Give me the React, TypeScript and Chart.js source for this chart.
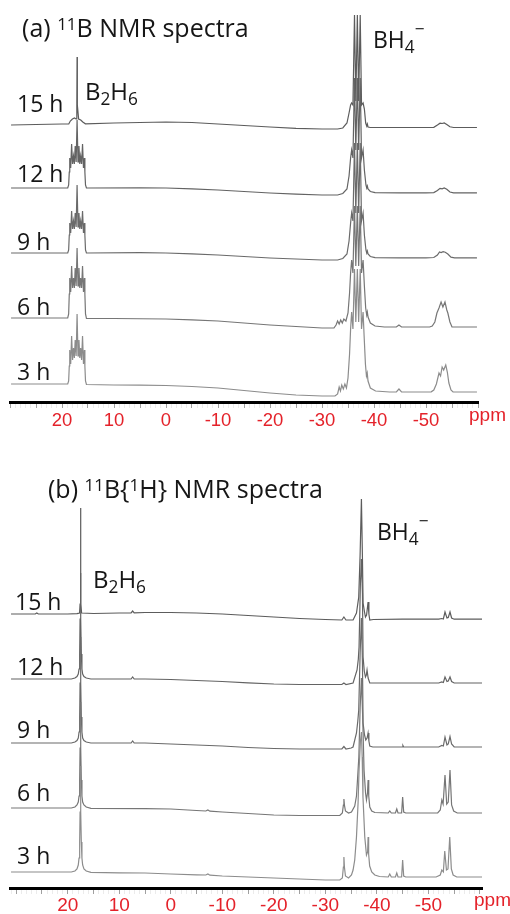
import React, { useEffect, useRef } from 'react';
import { Chart, registerables } from 'chart.js';
Chart.register(...registerables);

type Pt = [number, number];
type Seg = { t: string; s?: number; dy?: number };
type Annot = { ppm: number; v: number; size: number; segs: Seg[] };

// ---------- Data: (a) 11B NMR spectra, [ppm, intensity above stacking offset] ----------
const HOURS = ['3 h', '6 h', '9 h', '12 h', '15 h'];

const A_3H: Pt[] = [
  [29.8, 0], [25, 0], [20, 0], [18.9, 0], [18.72, 3], [18.6, 18], [18.51, 34], [18.33, 20], [18.15, 48], [17.97, 24],
  [17.79, 36], [17.62, 26], [17.46, 44], [17.28, 28], [17.1, 70], [16.92, 28], [16.74, 44], [16.58, 26], [16.41, 36],
  [16.23, 24], [16.05, 48], [15.87, 20], [15.69, 34], [15.6, 18], [15.48, 3], [15.3, -0.5], [10, -1], [5, -1.2], [0, -1.5],
  [-5, -2.5], [-10, -4], [-15, -6.5], [-20, -9], [-25, -11], [-30, -12], [-32.5, -12], [-33, -10], [-33.3, -3], [-33.55, -7],
  [-33.8, -1], [-34.1, -5], [-34.4, 0], [-34.7, -4], [-35.0, 6], [-35.3, 30], [-35.5, 55], [-35.7, 72], [-35.95, 55],
  [-36.25, 115], [-36.5, 62], [-36.8, 115], [-37.05, 62], [-37.35, 115], [-37.6, 55], [-37.9, 72], [-38.1, 48], [-38.35, 20],
  [-38.55, 8], [-38.7, 11], [-38.85, 3], [-39.3, -4], [-40.3, -7], [-43, -8], [-44.3, -7.8], [-44.8, -5], [-45.3, -7.8],
  [-47, -8], [-51, -7.8], [-51.5, -6], [-52.0, 0], [-52.5, 11], [-52.8, 8], [-53.1, 17], [-53.4, 14], [-53.8, 19],
  [-54.1, 12], [-54.4, 1], [-54.8, -6], [-55.2, -8], [-59.8, -8],
];
const A_6H: Pt[] = [
  [29.8, 0], [20, 0], [18.9, 0], [18.72, 4], [18.6, 24], [18.51, 40], [18.33, 26], [18.15, 52], [17.97, 30], [17.79, 40],
  [17.62, 30], [17.46, 50], [17.28, 32], [17.1, 70], [16.92, 32], [16.74, 50], [16.58, 30], [16.41, 40], [16.23, 30],
  [16.05, 52], [15.87, 26], [15.69, 40], [15.6, 24], [15.48, 4], [15.3, -0.3], [10, -0.5], [0, -1], [-5, -1.8], [-10, -3],
  [-15, -5], [-20, -7], [-25, -8.5], [-30, -10], [-32.3, -10], [-32.7, -7], [-33.0, -3], [-33.3, -6], [-33.6, -2],
  [-33.9, -5], [-34.2, -1], [-34.6, -3], [-35.0, 5], [-35.3, 25], [-35.5, 45], [-35.7, 58], [-35.95, 45], [-36.25, 112],
  [-36.5, 52], [-36.8, 112], [-37.05, 52], [-37.35, 112], [-37.6, 45], [-37.9, 58], [-38.15, 32], [-38.4, 10], [-38.6, 3],
  [-38.72, 6], [-38.85, 1], [-39.3, -5], [-40.2, -8], [-42, -9], [-44.3, -9], [-44.8, -7], [-45.3, -9], [-50.7, -9],
  [-51.2, -8], [-51.7, -4], [-52.1, 5], [-52.5, 10], [-52.9, 16], [-53.25, 11], [-53.65, 16], [-54.0, 8], [-54.2, 5],
  [-54.6, -4], [-55.0, -9], [-59.8, -9],
];
const A_9H: Pt[] = [
  [29.8, 0], [20, 0], [18.9, 0], [18.72, 3], [18.6, 18], [18.51, 30], [18.33, 20], [18.15, 42], [17.97, 24], [17.79, 32],
  [17.62, 24], [17.46, 40], [17.28, 26], [17.1, 68], [16.92, 26], [16.74, 40], [16.58, 24], [16.41, 32], [16.23, 24],
  [16.05, 42], [15.87, 20], [15.69, 30], [15.6, 18], [15.48, 3], [15.3, 0], [5, 0.3], [0, 0], [-5, -0.8], [-10, -2],
  [-15, -3.5], [-20, -5], [-25, -6], [-30, -7], [-33, -7], [-34, -5.5], [-34.8, -1], [-35.2, 12], [-35.5, 30], [-35.7, 40],
  [-35.95, 32], [-36.25, 110], [-36.5, 40], [-36.8, 110], [-37.05, 40], [-37.35, 110], [-37.6, 32], [-37.9, 40],
  [-38.15, 18], [-38.45, 3], [-38.6, 0], [-38.72, 2], [-38.85, -1], [-39.3, -3.5], [-40.2, -4.7], [-45, -4.8], [-50, -4.8],
  [-51.5, -4.5], [-52.2, -2], [-52.6, 1], [-52.9, 0.5], [-53.3, 1.3], [-53.7, 0.8], [-54.2, -1], [-54.8, -4.2],
  [-55.5, -4.8], [-59.8, -4.8],
];
const A_12H: Pt[] = [
  [29.8, 0], [20, 0], [18.9, 0], [18.72, 3], [18.6, 16], [18.51, 30], [18.33, 20], [18.15, 44], [17.97, 24], [17.79, 32],
  [17.62, 24], [17.46, 42], [17.28, 26], [17.1, 68], [16.92, 26], [16.74, 42], [16.58, 24], [16.41, 32], [16.23, 24],
  [16.05, 44], [15.87, 20], [15.69, 30], [15.6, 16], [15.48, 3], [15.3, 0], [5, 0.2], [0, 0], [-5, -0.8], [-10, -2],
  [-15, -3.5], [-20, -5], [-25, -6.2], [-30, -7], [-33, -7], [-34, -5.5], [-34.8, -1], [-35.2, 12], [-35.5, 30],
  [-35.7, 38], [-35.95, 30], [-36.25, 110], [-36.5, 38], [-36.8, 110], [-37.05, 38], [-37.35, 110], [-37.6, 30],
  [-37.9, 38], [-38.15, 18], [-38.45, 3], [-38.6, 0], [-38.72, 2], [-38.85, -1], [-39.3, -3.5], [-40.2, -4.7], [-45, -4.8],
  [-50, -4.8], [-51.5, -4.6], [-52.2, -2.5], [-52.7, -0.3], [-53.1, -0.8], [-53.5, 0], [-54.0, -1.2], [-54.6, -4],
  [-55.3, -4.8], [-59.8, -4.8],
];
const A_15H: Pt[] = [
  [29.8, 0], [25, 0.5], [20, 1], [18.7, 1], [18.4, 4], [18.0, 6], [17.6, 7], [17.3, 6], [17.15, 20], [17.1, 68],
  [17.05, 20], [16.8, 6], [16.4, 5], [16.0, 3], [15.5, 1.2], [10, 2], [5, 2.5], [0, 3], [-5, 2.5], [-10, 1], [-15, -0.5],
  [-20, -2], [-25, -3.3], [-30, -4], [-33, -4], [-34, -3], [-34.8, 2], [-35.2, 12], [-35.5, 20], [-35.7, 22], [-35.95, 20],
  [-36.25, 110], [-36.5, 24], [-36.8, 110], [-37.05, 24], [-37.35, 110], [-37.6, 20], [-37.9, 22], [-38.15, 16],
  [-38.4, 2], [-38.6, -1], [-38.72, 1], [-38.85, -2], [-39.3, -2.5], [-45, -2.5], [-50, -2.5], [-51.5, -2.3], [-52.2, 0],
  [-52.7, 1.8], [-53.1, 1.5], [-53.5, 2], [-54.0, 0.5], [-54.6, -1.8], [-55.3, -2.5], [-59.8, -2.5],
];

// ---------- Data: (b) 11B{1H} NMR spectra ----------
const B_3H: Pt[] = [
  [31, 0], [25, 0], [20, 0], [19.3, 0], [18.6, 1], [18.2, 3], [17.95, 7], [17.8, 14], [17.68, 30], [17.6, 60], [17.52, 106],
  [17.44, 60], [17.36, 30], [17.24, 14], [17.1, 7], [16.85, 3], [16.4, 1], [15.5, -0.3], [10, -0.8], [5, -1], [0, -2],
  [-5, -2.8], [-6.8, -3], [-7.2, -2], [-7.6, -3.2], [-10, -4], [-15, -5], [-20, -6], [-25, -7], [-30, -8], [-32.8, -8],
  [-33.3, -6], [-33.5, 5], [-33.6, 15], [-33.7, 5], [-33.9, -4], [-34.5, -6], [-35.07, -3], [-35.38, 2], [-35.7, 12],
  [-36.04, 35], [-36.35, 69], [-36.54, 102], [-36.8, 130], [-37.0, 140], [-37.15, 115], [-37.3, 75], [-37.65, 35],
  [-37.98, 17], [-38.2, 20], [-38.3, 35], [-38.4, 18], [-38.6, 6], [-39.0, 0], [-39.6, -3], [-40.5, -4.5], [-42.2, -5],
  [-42.5, -2], [-42.8, -5], [-43.6, -5], [-43.86, -1], [-44.1, -5], [-44.8, -5], [-45.0, 12], [-45.2, -4], [-45.6, -5],
  [-51.5, -5], [-52.3, -3], [-52.6, 2], [-52.9, 0], [-53.17, 21], [-53.5, 2], [-53.8, 3], [-54.14, 35], [-54.45, 3],
  [-54.8, -3], [-55.5, -5], [-60.4, -5],
];
const B_6H: Pt[] = [
  [31, 0], [20, 0], [19.3, 0], [18.6, 1], [18.2, 3], [17.95, 6], [17.8, 12], [17.68, 28], [17.6, 60], [17.52, 106],
  [17.44, 60], [17.36, 28], [17.24, 12], [17.1, 6], [16.85, 3], [16.4, 1], [15.5, -0.3], [5, -0.6], [0, -1], [-5, -2.5],
  [-6.8, -3], [-7.2, -2], [-7.6, -3.2], [-10, -4], [-15, -5.5], [-20, -7], [-25, -7.5], [-30, -7.5], [-32.8, -7.5],
  [-33.3, -5], [-33.5, 3], [-33.6, 9], [-33.7, 3], [-33.9, -3], [-34.5, -5], [-35.07, -4], [-35.7, 2], [-36.04, 12],
  [-36.2, 25], [-36.5, 51], [-36.75, 100], [-37.0, 130], [-37.25, 90], [-37.51, 38], [-37.8, 15], [-37.98, 8],
  [-38.18, 15], [-38.3, 28], [-38.42, 12], [-38.62, 1], [-39.0, -3], [-39.6, -4.5], [-42.2, -5], [-42.5, -3], [-42.8, -5],
  [-43.6, -5], [-43.86, -1], [-44.1, -5], [-44.8, -5], [-45.0, 11], [-45.2, -4], [-45.6, -5], [-51.8, -5], [-52.3, -2],
  [-52.6, 8], [-52.85, 4], [-53.22, 33], [-53.55, 4], [-53.85, 6], [-54.19, 38], [-54.5, 3], [-54.9, -3], [-55.6, -5],
  [-60.4, -5],
];
const B_9H: Pt[] = [
  [31, 0], [20, 0], [19.3, 0], [18.6, 1], [18.2, 2.5], [17.95, 5], [17.8, 11], [17.68, 26], [17.6, 60], [17.52, 106],
  [17.44, 60], [17.36, 26], [17.24, 11], [17.1, 5], [16.85, 2.5], [16.4, 1], [15.5, 0], [10, 0], [7.7, 0], [7.4, 2],
  [7.1, 0], [5, 0], [0, -1], [-5, -2], [-10, -3], [-15, -4.5], [-20, -5.5], [-25, -6], [-30, -6], [-33.2, -6],
  [-33.6, -3.5], [-34, -6], [-35.0, -5], [-35.38, -4], [-36.04, 10], [-36.3, 22], [-36.48, 33], [-36.75, 90], [-37.0, 125],
  [-37.2, 80], [-37.32, 20], [-37.6, 8], [-37.84, 3], [-38.1, 5], [-38.29, 10], [-38.45, 2], [-38.62, -3], [-39.2, -4],
  [-42, -4], [-44.9, -4], [-45.05, -2.5], [-45.2, -4], [-52, -4], [-52.6, -2.5], [-52.9, -3], [-53.22, 6], [-53.6, -2],
  [-53.85, -1], [-54.19, 6.5], [-54.5, -1], [-55, -4], [-60.4, -4],
];
const B_12H: Pt[] = [
  [31, 0], [20, 0], [19.3, 0], [18.6, 1], [18.2, 2.5], [17.95, 5], [17.8, 10], [17.68, 25], [17.6, 60], [17.52, 106],
  [17.44, 60], [17.36, 25], [17.24, 10], [17.1, 5], [16.85, 2.5], [16.4, 1], [15.5, 0], [10, 0], [7.7, 0], [7.4, 2],
  [7.1, 0], [5, 0], [0, -0.5], [-5, -1.5], [-10, -2.5], [-15, -3.8], [-20, -5], [-25, -5.5], [-30, -5.5], [-33.2, -5.5],
  [-33.6, -4], [-34, -5.5], [-35.38, -4], [-36.15, 9], [-36.4, 20], [-36.54, 32], [-36.8, 95], [-37.0, 120], [-37.2, 85],
  [-37.32, 22], [-37.55, 8], [-37.78, 2], [-37.95, 4], [-38.09, 9], [-38.3, 1], [-38.62, -4], [-39.5, -4], [-52, -4],
  [-52.6, -3], [-52.9, -3.5], [-53.22, 2], [-53.6, -2.5], [-53.85, -2], [-54.19, 2], [-54.5, -2.5], [-55, -4], [-60.4, -4],
];
const B_15H: Pt[] = [
  [31, 0], [26.3, 0], [26.0, 1], [25.7, 0], [20, 0], [18.2, 0.3], [17.7, 1], [17.6, 10], [17.52, 106], [17.44, 10],
  [17.3, 1], [15, 0.5], [10, 1], [7.7, 1.2], [7.4, 3], [7.1, 1.2], [5, 1.5], [0, 1.5], [-5, 1], [-10, 0], [-15, -1.5],
  [-20, -3], [-25, -4.5], [-30, -5.5], [-33.2, -6], [-33.6, -3], [-34, -6], [-35.38, -6], [-36.04, 1], [-36.48, 17],
  [-36.75, 60], [-37.0, 115], [-37.2, 55], [-37.32, 11], [-37.6, 2], [-37.78, -3], [-38.0, -1], [-38.29, 12], [-38.45, 0],
  [-38.62, -6], [-39.3, -5.5], [-45, -5.2], [-52, -5.2], [-52.6, -4.5], [-52.9, -5], [-53.22, 2], [-53.6, -4],
  [-53.85, -3.5], [-54.19, 2], [-54.5, -4], [-55, -5.2], [-60.4, -5.2],
];

const A_TRACES = [A_3H, A_6H, A_9H, A_12H, A_15H];
const B_TRACES = [B_3H, B_6H, B_9H, B_12H, B_15H];
const A_OFFSETS = [18, 84, 149, 214, 277];
const B_OFFSETS = [16, 80, 145, 209, 274];
const X_LABELS = [20, 10, 0, -10, -20, -30, -40, -50];

const TRACE_COLORS = ['#8c8c8c', '#767676', '#6a6a6a', '#636363', '#5c5c5c'];
const RED = '#e4222a';
const FONT = '"Open Sans", "DejaVu Sans", sans-serif';
const TICK_FONT = '"Liberation Sans", Arial, sans-serif';

const A_HOUR_POS: [number, number][] = [[28.65, 22], [28.65, 87], [28.65, 152], [28.65, 220], [28.65, 290]];
const B_HOUR_POS: [number, number][] = [[29.84, 24], [29.84, 87], [29.84, 150], [29.84, 213], [30.23, 278]];

const A_ANNOTS: Annot[] = [
  { ppm: 27.69, v: 365, size: 25, segs: [{ t: '(a) ' }, { t: '11', s: 0.68, dy: -0.3 }, { t: 'B NMR spectra' }] },
  { ppm: 15.58, v: 302, size: 24, segs: [{ t: 'B' }, { t: '2', s: 0.72, dy: 0.2 }, { t: 'H' }, { t: '6', s: 0.72, dy: 0.2 }] },
  { ppm: -39.8, v: 354, size: 23, segs: [{ t: 'BH' }, { t: '4', s: 0.75, dy: 0.2 }, { t: '\u2212', s: 0.75, dy: -0.55 }] },
  ...HOURS.map((h, i) => ({ ppm: A_HOUR_POS[i][0], v: A_HOUR_POS[i][1], size: 23, segs: [{ t: h }] })),
];
const B_ANNOTS: Annot[] = [
  {
    ppm: 23.83, v: 390, size: 25,
    segs: [{ t: '(b) ' }, { t: '11', s: 0.68, dy: -0.3 }, { t: 'B{' }, { t: '1', s: 0.68, dy: -0.3 }, { t: 'H} NMR spectra' }],
  },
  { ppm: 15.09, v: 300, size: 24, segs: [{ t: 'B' }, { t: '2', s: 0.72, dy: 0.2 }, { t: 'H' }, { t: '6', s: 0.72, dy: 0.2 }] },
  { ppm: -40.02, v: 348, size: 23, segs: [{ t: 'BH' }, { t: '4', s: 0.75, dy: 0.2 }, { t: '\u2212', s: 0.75, dy: -0.55 }] },
  ...HOURS.map((h, i) => ({ ppm: B_HOUR_POS[i][0], v: B_HOUR_POS[i][1], size: 23, segs: [{ t: h }] })),
];

interface PanelCfg {
  traces: Pt[][];
  offsets: number[];
  xMin: number;
  xMax: number;
  yMax: number;
  top: number;
  height: number;
  padR: number;
  axisH: number;
  tickFont: number;
  tickPad: number;
  annots: Annot[];
  ppmDx: number;
  ppmDy: number;
}

function drawRich(ctx: CanvasRenderingContext2D, segs: Seg[], x: number, y: number, size: number) {
  let cx = x;
  for (const g of segs) {
    const fs = size * (g.s ?? 1);
    ctx.font = `${fs}px ${FONT}`;
    ctx.fillText(g.t, cx, y + (g.dy ?? 0) * size);
    cx += ctx.measureText(g.t).width;
  }
}

function Panel({ cfg }: { cfg: PanelCfg }) {
  const ref = useRef<HTMLCanvasElement | null>(null);
  useEffect(() => {
    if (!ref.current) return;
    const ticks: number[] = [];
    for (let v = Math.ceil(cfg.xMin); v <= Math.floor(cfg.xMax); v++) ticks.push(v);
    const annotPlugin = {
      id: 'annot',
      afterDraw(chart: any) {
        const ctx: CanvasRenderingContext2D = chart.ctx;
        const xs = chart.scales.x;
        const ys = chart.scales.y;
        ctx.save();
        ctx.fillStyle = '#161616';
        ctx.textAlign = 'left';
        ctx.textBaseline = 'alphabetic';
        for (const a of cfg.annots) {
          drawRich(ctx, a.segs, xs.getPixelForValue(a.ppm), ys.getPixelForValue(a.v), a.size);
        }
        ctx.fillStyle = RED;
        ctx.font = `19px ${TICK_FONT}`;
        ctx.fillText('ppm', chart.chartArea.right + cfg.ppmDx, chart.chartArea.bottom + cfg.ppmDy);
        ctx.restore();
      },
    };
    const chart = new Chart(ref.current, {
      type: 'line',
      data: {
        datasets: cfg.traces.map((tr, i) => ({
          data: tr.map(([x, y]) => ({ x, y: y + cfg.offsets[i] })),
          borderColor: TRACE_COLORS[i],
          borderWidth: 1.2,
          pointRadius: 0,
          tension: 0,
          fill: false,
        })),
      },
      options: {
        responsive: false,
        maintainAspectRatio: false,
        animation: false,
        devicePixelRatio: 1,
        events: [],
        layout: { padding: { left: 10, right: cfg.padR, top: 0, bottom: 0 } },
        plugins: { legend: { display: false }, tooltip: { enabled: false }, title: { display: false } },
        scales: {
          x: {
            type: 'linear',
            reverse: true,
            min: cfg.xMin,
            max: cfg.xMax,
            afterFit: (s: any) => {
              s.height = cfg.axisH;
            },
            afterBuildTicks: (s: any) => {
              s.ticks = ticks.map((v) => ({ value: v }));
            },
            ticks: {
              autoSkip: false,
              maxRotation: 0,
              minRotation: 0,
              padding: cfg.tickPad,
              color: RED,
              font: { family: TICK_FONT, size: cfg.tickFont },
              callback: (v: any) => (X_LABELS.includes(Number(v)) ? String(v) : ''),
            },
            grid: {
              drawOnChartArea: false,
              drawTicks: true,
              tickLength: 6,
              lineWidth: 1,
              color: (c: any) => (c.tick && Math.abs(c.tick.value % 5) < 1e-6 ? '#a0a0a0' : '#ebebeb'),
            },
            border: { display: true, color: '#000', width: 3 },
          },
          y: { display: false, min: 0, max: cfg.yMax },
        },
      } as any,
      plugins: [annotPlugin],
    });
    return () => chart.destroy();
  }, [cfg]);
  return (
    <canvas
      ref={ref}
      width={510}
      height={cfg.height}
      style={{ position: 'absolute', left: 0, top: cfg.top, width: 510, height: cfg.height, display: 'block' }}
    />
  );
}

const PANEL_A: PanelCfg = {
  traces: A_TRACES, offsets: A_OFFSETS, xMin: -60, xMax: 30, yMax: 402, top: 0, height: 440, padR: 32,
  axisH: 38, tickFont: 18.5, tickPad: 2, annots: A_ANNOTS, ppmDx: -9, ppmDy: 19,
};
const PANEL_B: PanelCfg = {
  traces: B_TRACES, offsets: B_OFFSETS, xMin: -60.4, xMax: 31.2, yMax: 448, top: 440, height: 474, padR: 28,
  axisH: 26, tickFont: 19, tickPad: 0, annots: B_ANNOTS, ppmDx: -8, ppmDy: 18,
};

export default function App() {
  return (
    <div style={{ position: 'absolute', left: 0, top: 0, width: 510, height: 914, background: '#fff', overflow: 'hidden' }}>
      <Panel cfg={PANEL_A} />
      <Panel cfg={PANEL_B} />
    </div>
  );
}
